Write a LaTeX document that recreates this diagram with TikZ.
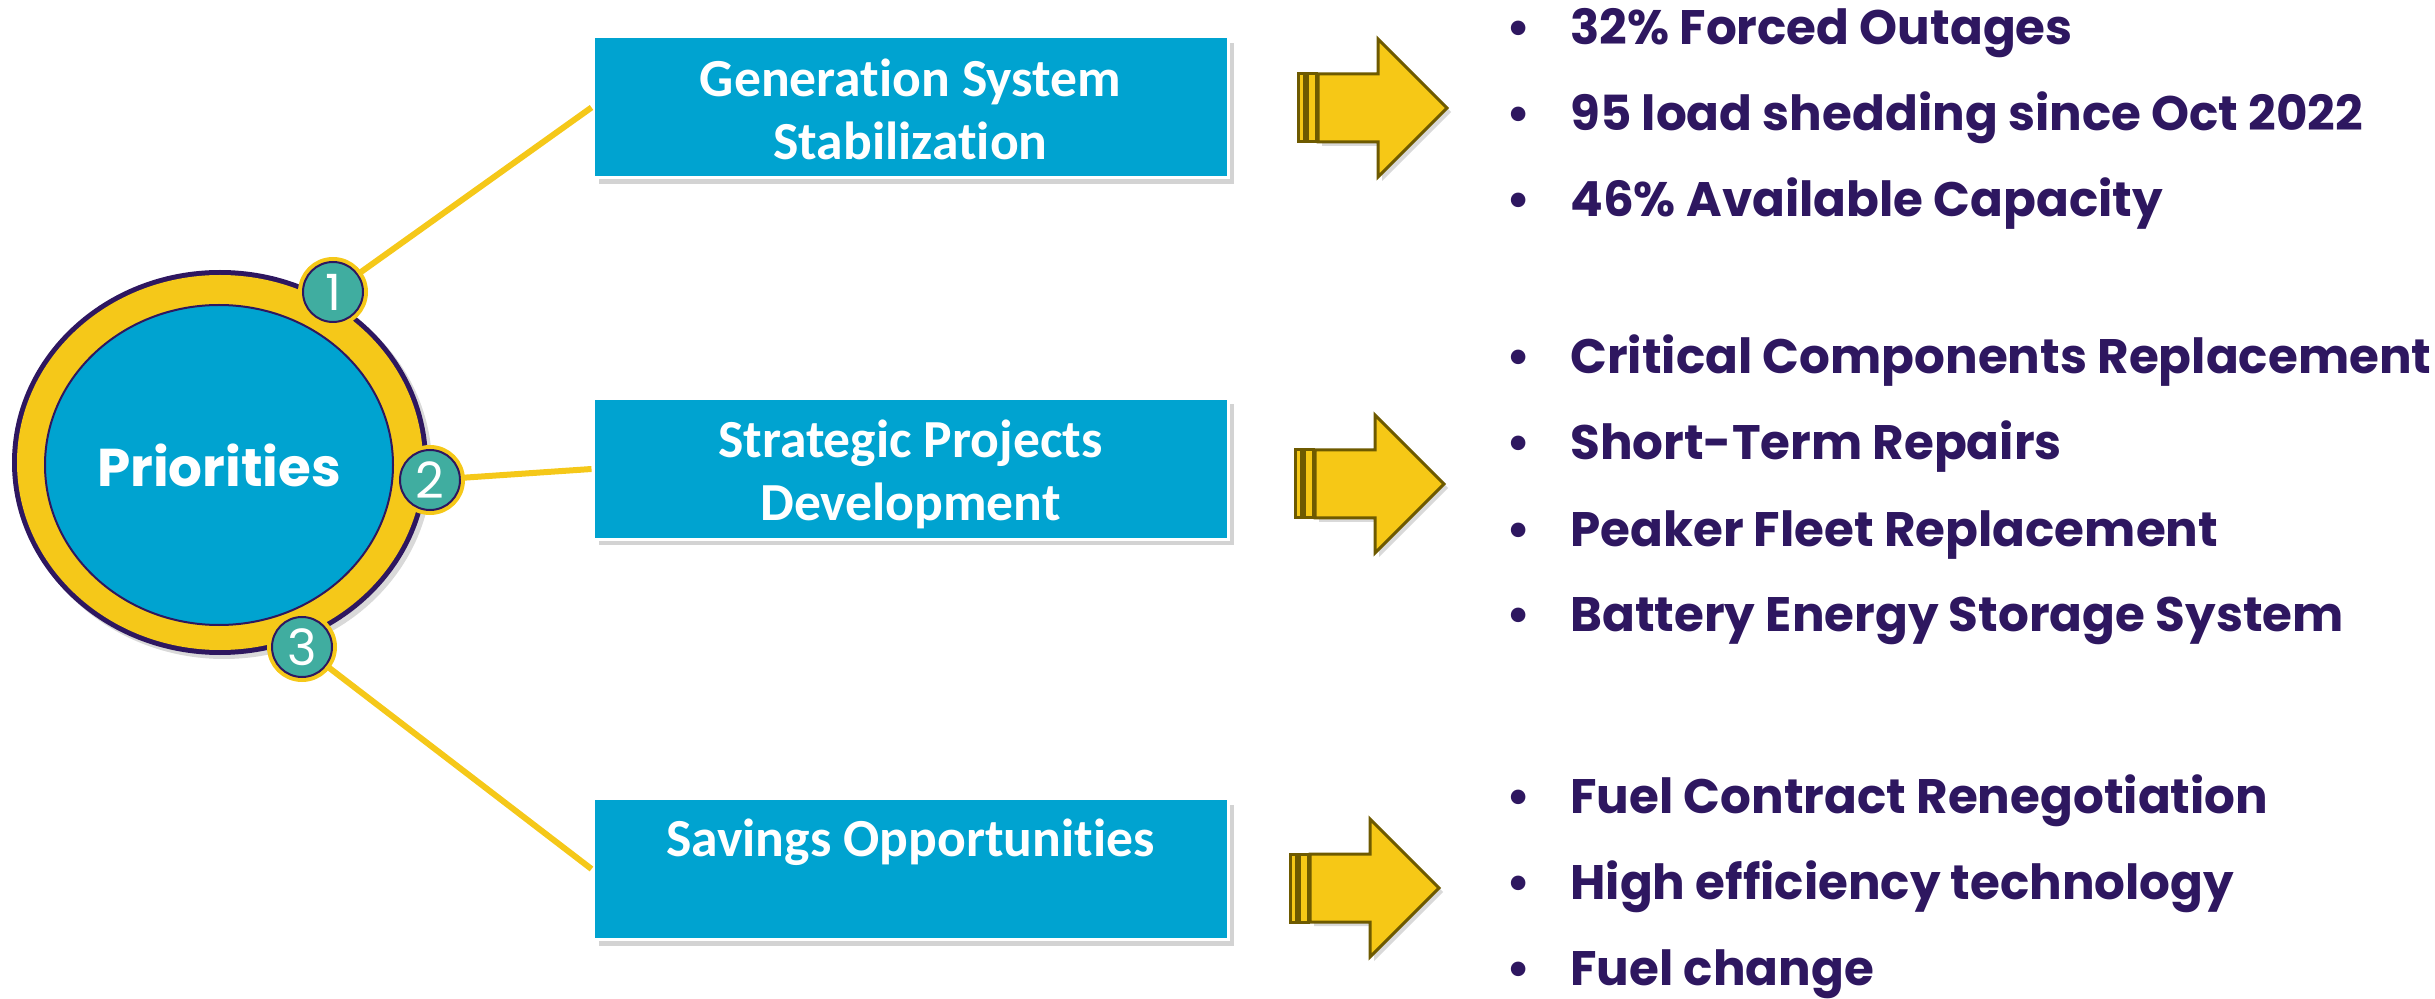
\documentclass[tikz,border=0pt]{standalone}
\usepackage{fontspec}
\usepackage{tikz}
\usetikzlibrary{shapes.geometric, shadows}
\newfontfamily\pop{Poppins}
\newfontfamily\carl[Ligatures=NoCommon]{Carlito}
\definecolor{boxblue}{RGB}{0,163,208}
\definecolor{ringyel}{RGB}{245,200,25}
\definecolor{deeppurp}{RGB}{46,23,96}
\definecolor{badgeteal}{RGB}{64,173,160}
\definecolor{arrowyel}{RGB}{246,200,22}
\definecolor{arrowedge}{RGB}{110,90,0}
\tikzset{
  prio/.style = {ellipse, fill=boxblue, draw=deeppurp, line width=1pt, minimum width=174pt, minimum height=160pt, inner sep=0pt, text=white, font=\pop\bfseries\fontsize{26.6}{32}\selectfont},
  badge/.style = {circle, fill=badgeteal, draw=deeppurp, line width=1pt, minimum size=30pt, inner sep=0pt, text=white, font=\pop\fontsize{25}{30}\selectfont, preaction={draw=ringyel, line width=5pt}},
  prbox/.style = {rectangle, fill=boxblue, draw=white, line width=1.5pt, minimum width=317.5pt, minimum height=70.5pt, drop shadow={shadow xshift=3pt, shadow yshift=-3pt, opacity=0.35}},
  boxtext/.style = {anchor=base, align=center, inner sep=0pt, text=white, font=\carl\bfseries\fontsize{26.8}{31.5}\selectfont},
  item/.style = {anchor=base west, inner sep=0pt, text=deeppurp, font=\pop\bfseries\fontsize{24.2}{30}\selectfont},
  link/.style = {ringyel, line width=3pt},
  bigarrow/.style = {fill=arrowyel, draw=arrowedge, line width=1.5pt}
}

\begin{document}
\begin{tikzpicture}[x=0.5pt, y=-0.5pt]
\useasboundingbox (0,0) rectangle (2435,999);

\fill[deeppurp, drop shadow={shadow xshift=2pt, shadow yshift=-2pt, opacity=0.3}] (220,462.5) ellipse [x radius=208, y radius=192.5];
\fill[ringyel] (220,462.5) ellipse [x radius=203, y radius=187.5];
\node[prio] (core) at (219,465) {Priorities};

\node[prbox] (gen) at (910.5,107.5) {};
\node[prbox] (proj) at (910.5,469) {};
\node[prbox] (save) at (910.5,869) {};
\node[boxtext] (gent) at (910.5,160) {Generation System\\Stabilization};
\node[boxtext] (projt) at (910.5,521) {Strategic Projects\\Development};
\node[boxtext] (savet) at (910.5,856) {Savings Opportunities};

\node[badge] (b1) at (333,292) {1};
\node[badge] (b2) at (430,480) {2};
\node[badge] (b3) at (302,647) {3};

\draw[link] (b1) -- (gen.west);
\draw[link] (b2) -- (proj.west);
\draw[link] (b3) -- (save.west);

\foreach \ax/\ay in {1298/108, 1295/484, 1290/888} {
  \draw[bigarrow] ({\ax},{\ay-34}) rectangle ({\ax+6},{\ay+34});
  \draw[bigarrow] ({\ax+9},{\ay-34}) rectangle ({\ax+18},{\ay+34});
  \draw[bigarrow, drop shadow={shadow xshift=2pt, shadow yshift=-2pt, opacity=0.3}] ({\ax+20},{\ay-34}) -- ({\ax+80},{\ay-34}) -- ({\ax+80},{\ay-69}) -- ({\ax+149},{\ay}) -- ({\ax+80},{\ay+69}) -- ({\ax+80},{\ay+34}) -- ({\ax+20},{\ay+34}) -- cycle;
}

\foreach \t [count=\i] in {32\% Forced Outages, 95 load shedding since Oct 2022, 46\% Available Capacity}
  \node[item] (ga\i) at (1570,{45+86*(\i-1)}) {\llap{\textbullet\hspace{20pt}}\t};
\foreach \t [count=\i] in {Critical Components Replacement, Short-Term Repairs, Peaker Fleet Replacement, Battery Energy Storage System}
  \node[item] (gb\i) at (1570,{374+86*(\i-1)}) {\llap{\textbullet\hspace{20pt}}\t};
\foreach \t [count=\i] in {Fuel Contract Renegotiation, High efficiency technology, Fuel change}
  \node[item] (gc\i) at (1570,{813+86*(\i-1)}) {\llap{\textbullet\hspace{20pt}}\t};

\end{tikzpicture}
\end{document}
